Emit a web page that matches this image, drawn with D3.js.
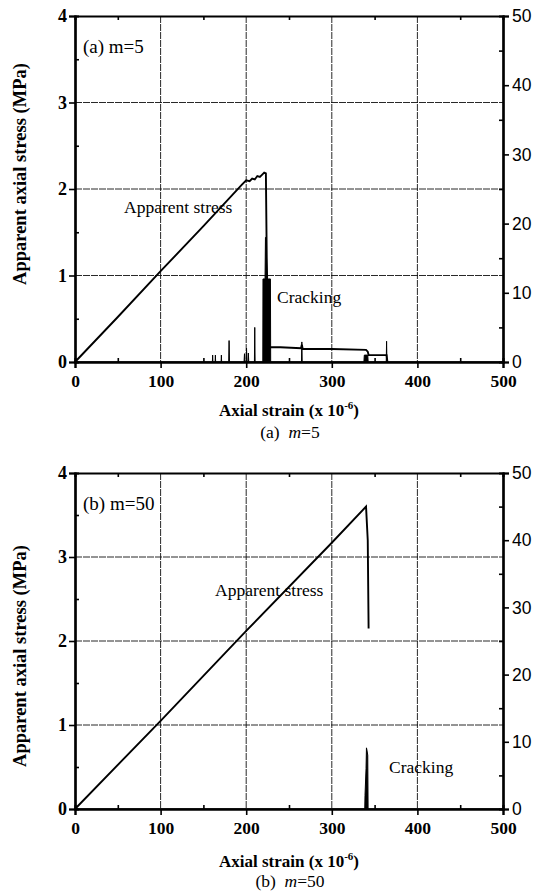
<!DOCTYPE html>
<html><head><meta charset="utf-8">
<script src="https://cdn.jsdelivr.net/npm/d3@7"></script>
<style>body{margin:0;background:#fff}svg{display:block}text{white-space:pre}</style>
</head><body>
<script>
// ---------- DATA ----------
const xTicks = [0, 100, 200, 300, 400, 500];
const yLeftTicks = [0, 1, 2, 3, 4];
const yRightTicks = [0, 10, 20, 30, 40, 50];

// Panel (a) m=5 : apparent stress (MPa)
const stressA_x = [0, 50, 100, 150, 195, 200, 204, 207, 210, 213, 216, 219, 221, 223, 224, 226, 240, 264, 265, 266, 300, 340, 342, 343, 364, 365];
const stressA_y = [0, 0.52, 1.05, 1.57, 2.05, 2.10, 2.09, 2.12, 2.11, 2.15, 2.14, 2.17, 2.19, 2.18, 1.2, 0.17, 0.17, 0.16, 0.20, 0.15, 0.15, 0.14, 0.12, 0.08, 0.08, 0];
// Panel (a) cracking (right axis)
const crackA_x = [0, 160.5, 160.8, 161.1, 163.7, 164, 164.3, 170.7, 171, 171.3, 179.6, 180, 180.4, 197.5, 198, 198.5, 200, 200.4, 200.8, 202, 202.5, 203, 209.6, 210, 210.4, 219.4, 219.6, 222, 222.5, 223.5, 224, 226, 228.3, 228.6, 264.6, 265, 265.4, 337.5, 338, 342, 342.5, 363.6, 364, 364.4, 500];
const crackA_y = [0, 0, 1.0, 0, 0, 1.0, 0, 0, 1.0, 0, 0, 3.1, 0, 0, 1.2, 0, 0, 2.0, 0, 0, 1.3, 0, 0, 5.0, 0, 0, 12, 12, 18, 18, 12, 12, 12, 0, 0, 2.9, 0, 0, 1.0, 1.0, 0, 0, 3.0, 0, 0];

// Panel (b) m=50 : apparent stress (MPa)
const stressB_x = [0, 100, 200, 300, 340, 342, 343];
const stressB_y = [0, 1.05, 2.12, 3.17, 3.60, 3.2, 2.15];
// Panel (b) cracking (right axis)
const crackB_x = [0, 338.5, 338.8, 340, 340.5, 341, 342, 342.4, 500];
const crackB_y = [0, 0, 2, 6, 9.1, 8.8, 8.0, 0, 0];

// ---------- DRAW ----------
const W = 540, H = 894;
const svg = d3.select("body").append("svg").attr("width", W).attr("height", H);
const serif = "Liberation Serif, Times New Roman, serif";
const sans = "Liberation Sans, Arial, sans-serif";

function panel(o) {
  const x = d3.scaleLinear().domain([0, 500]).range([75, 503]);
  const yL = d3.scaleLinear().domain([0, 4]).range([o.bottom, o.top]);
  const yR = d3.scaleLinear().domain([0, 50]).range([o.bottom, o.top]);
  const g = svg.append("g");

  // grid
  g.append("g").selectAll("line").data([100, 200, 300, 400]).join("line")
    .attr("x1", d => x(d)).attr("x2", d => x(d)).attr("y1", o.top).attr("y2", o.bottom)
    .attr("stroke", "#111").attr("stroke-width", 0.9).attr("stroke-dasharray", "7,1");
  g.append("g").selectAll("line").data([1, 2, 3]).join("line")
    .attr("y1", d => yL(d)).attr("y2", d => yL(d)).attr("x1", 75).attr("x2", 503)
    .attr("stroke", "#111").attr("stroke-width", 0.9).attr("stroke-dasharray", "7,1");

  // cracking (filled)
  const crack = o.cx.map((v, i) => [v, o.cy[i]]);
  g.append("path").datum(crack)
    .attr("d", d3.area().x(d => x(d[0])).y0(yR(0)).y1(d => yR(d[1])))
    .attr("fill", "#000").attr("stroke", "#000").attr("stroke-width", 1);

  // stress line
  const stress = o.sx.map((v, i) => [v, o.sy[i]]);
  g.append("path").datum(stress)
    .attr("d", d3.line().x(d => x(d[0])).y(d => yL(d[1])))
    .attr("fill", "none").attr("stroke", "#000").attr("stroke-width", 1.9);

  // axes
  const minorX = d3.range(50, 500, 100);
  const minorL = d3.range(0.5, 4, 1);
  const minorR = d3.range(5, 50, 10);
  const bAx = g.append("g").attr("transform", `translate(0,${o.bottom})`)
    .call(d3.axisBottom(x).tickValues(xTicks).tickSize(6).tickPadding(7));
  bAx.selectAll("text").attr("font-family", serif).attr("font-weight", "bold").attr("font-size", 17.5).attr("fill", "#000");
  const bMin = g.append("g").attr("transform", `translate(0,${o.bottom})`)
    .call(d3.axisTop(x).tickValues(minorX).tickSize(4).tickFormat(""));
  const tAx = g.append("g").attr("transform", `translate(0,${o.top})`)
    .call(d3.axisBottom(x).tickValues(minorX).tickSize(4).tickFormat(""));
  const lAx = g.append("g").attr("transform", "translate(75,0)")
    .call(d3.axisLeft(yL).tickValues(yLeftTicks).tickSize(6).tickPadding(2).tickFormat(d3.format("d")));
  lAx.selectAll("text").attr("font-family", serif).attr("font-weight", "bold").attr("font-size", 18).attr("fill", "#000");
  const lMin = g.append("g").attr("transform", "translate(75,0)")
    .call(d3.axisRight(yL).tickValues(minorL).tickSize(4).tickFormat(""));
  const rAx = g.append("g").attr("transform", "translate(503,0)")
    .call(d3.axisRight(yR).tickValues(yRightTicks).tickSize(6).tickPadding(3));
  rAx.selectAll("text").attr("font-family", sans).attr("font-size", 17.5).attr("fill", "#000");
  const rMin = g.append("g").attr("transform", "translate(503,0)")
    .call(d3.axisLeft(yR).tickValues(minorR).tickSize(4).tickFormat(""));
  [bAx, bMin, tAx, lAx, lMin, rAx, rMin].forEach(a => {
    a.select(".domain").attr("stroke", "#000").attr("stroke-width", 2.2);
    a.selectAll(".tick line").attr("stroke", "#000").attr("stroke-width", 1.6);
  });

  // text
  g.append("text").attr("x", 83).attr("y", o.top + 37).attr("font-family", serif)
    .attr("font-size", 19).text(o.tag);
  g.append("text").attr("x", o.asX).attr("y", o.asY).attr("font-family", serif)
    .attr("font-size", 17.5).text("Apparent stress");
  g.append("text").attr("x", o.crX).attr("y", o.crY).attr("font-family", serif)
    .attr("font-size", 17.5).text("Cracking");
  // y title
  g.append("text").attr("transform", `translate(26,${o.ytY}) rotate(-90)`)
    .attr("text-anchor", "middle").attr("font-family", serif).attr("font-weight", "bold")
    .attr("font-size", 18.5).text("Apparent axial stress (MPa)");
  // x title
  const xt = g.append("text").attr("x", 289).attr("y", o.bottom + o.xtOff).attr("text-anchor", "middle")
    .attr("font-family", serif).attr("font-weight", "bold").attr("font-size", 17);
  xt.append("tspan").text("Axial strain (x 10");
  xt.append("tspan").attr("dy", -7).attr("font-size", 11).text("-6");
  xt.append("tspan").attr("dy", 7).text(")");
  // caption
  const cap = g.append("text").attr("x", 290).attr("y", o.capY).attr("text-anchor", "middle")
    .attr("font-family", serif).attr("font-size", 17.5);
  cap.append("tspan").text(o.capA + "  ");
  cap.append("tspan").attr("font-style", "italic").text("m");
  cap.append("tspan").text("=" + o.capB);
}

panel({ top: 16, bottom: 362, sx: stressA_x, sy: stressA_y, cx: crackA_x, cy: crackA_y, ytY: 174,
  tag: "(a) m=5", asX: 124, asY: 213, crX: 277, crY: 303, xtOff: 54, capY: 438, capA: "(a)", capB: "5" });
panel({ top: 473, bottom: 809, sx: stressB_x, sy: stressB_y, cx: crackB_x, cy: crackB_y, ytY: 656,
  tag: "(b) m=50", asX: 215, asY: 596, crX: 389, crY: 773, xtOff: 58, capY: 887, capA: "(b)", capB: "50" });
</script>
</body></html>
